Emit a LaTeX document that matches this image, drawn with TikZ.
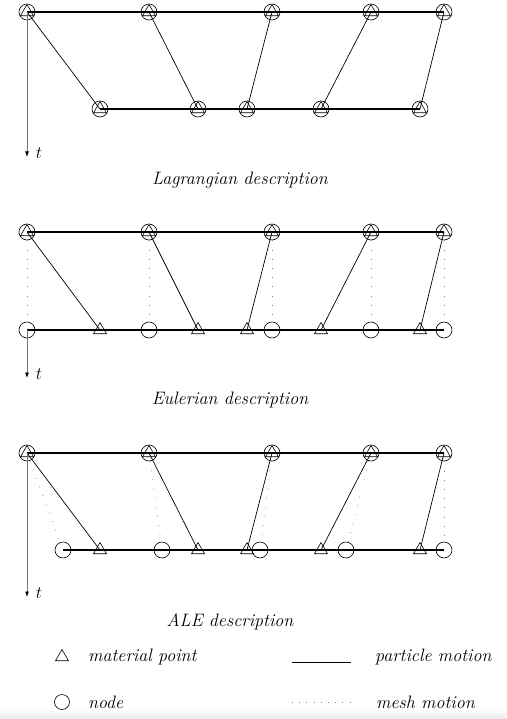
\documentclass[tikz,border=0pt]{standalone}
\usetikzlibrary{shapes.geometric,arrows.meta}
\begin{document}
\begin{tikzpicture}[x=1pt,y=-1pt,
  nd/.style={circle,draw,line width=0.6pt,minimum size=16pt,inner sep=0pt},
  mp/.style={regular polygon,regular polygon sides=3,draw,line width=0.6pt,minimum size=15pt,inner sep=0pt},
  pm/.style={line width=0.7pt},
  rowline/.style={line width=1.1pt},
  mm/.style={draw=black!50,line width=0.7pt,dash pattern=on 0.7pt off 8.5pt},
  ax/.style={draw=black!55,line width=0.8pt,-{Latex[length=5.5pt,width=4pt,color=black]}},
  lab/.style={font=\fontsize{18}{22}\selectfont\itshape,inner sep=0pt}]
\useasboundingbox (0,0) rectangle (506,719);
\fill[top color=white,bottom color=black!9,draw=none] (0,709) rectangle (506,719);

% ---------- Lagrangian ----------
\foreach \i/\x in {1/27,2/149,3/272,4/371,5/444}{
  \node[nd] (Ltc\i) at (\x,12) {};
  \node[mp] (Lt\i) at (\x,12) {};
}
\foreach \i/\x in {1/100,2/198,3/247,4/321,5/420}{
  \node[nd] (Lbc\i) at (\x,109) {};
  \node[mp] (Lb\i) at (\x,109) {};
}
\draw[rowline] (Lt1.center) -- (Lt5.center);
\draw[rowline] (Lb1.center) -- (Lb5.center);
\foreach \i in {1,...,5}{\draw[pm] (Lt\i.center) -- (Lb\i.center);}
\coordinate (Lend) at (27,157);
\draw[ax] (Lt1.center) -- (Lend);
\node[lab] (Ltl) at (39,153) {$t$};
\node[lab] (Lcap) at (240,180) {Lagrangian description};

% ---------- Eulerian ----------
\foreach \i/\x in {1/27,2/149,3/272,4/371,5/444}{
  \node[nd] (Etc\i) at (\x,232) {};
  \node[mp] (Et\i) at (\x,232) {};
  \node[nd] (Ebc\i) at (\x,330) {};
}
\foreach \i/\x in {1/100,2/198,3/247,4/321,5/420}{
  \node[mp] (Eb\i) at (\x,330) {};
}
\draw[rowline] (Et1.center) -- (Et5.center);
\draw[rowline] (Ebc1.center) -- (Ebc5.center);
\foreach \i in {1,...,5}{
  \draw[pm] (Et\i.center) -- (Eb\i.center);
  \draw[mm] (Etc\i) -- (Ebc\i);
}
\coordinate (Eend) at (27,378);
\draw[ax] (Ebc1.center) -- (Eend);
\node[lab] (Etl) at (39,374) {$t$};
\node[lab] (Ecap) at (230,400) {Eulerian description};

% ---------- ALE ----------
\foreach \i/\x in {1/27,2/149,3/272,4/371,5/444}{
  \node[nd] (Atc\i) at (\x,453) {};
  \node[mp] (At\i) at (\x,453) {};
}
\foreach \i/\x in {1/63,2/162,3/260,4/346,5/444}{
  \node[nd] (Abc\i) at (\x,550) {};
}
\foreach \i/\x in {1/100,2/198,3/247,4/321,5/420}{
  \node[mp] (Ab\i) at (\x,550) {};
}
\draw[rowline] (At1.center) -- (At5.center);
\draw[rowline] (Abc1.center) -- (Abc5.center);
\foreach \i in {1,...,5}{
  \draw[pm] (At\i.center) -- (Ab\i.center);
  \draw[mm] (Atc\i) -- (Abc\i);
}
\coordinate (Aend) at (27,597);
\draw[ax] (At1.center) -- (Aend);
\node[lab] (Atl) at (39,593) {$t$};
\node[lab] (Acap) at (230,622) {ALE description};

% ---------- Legend ----------
\node[mp] (legmp) at (62,657) {};
\node[lab,anchor=west] (legmpt) at (88,657) {material point};
\node[nd,minimum size=15pt] (legnd) at (62,702) {};
\node[lab,anchor=west] (legndt) at (88,702) {node};
\coordinate (pa) at (292,662);
\coordinate (pb) at (351,662);
\draw[pm] (pa) -- (pb);
\node[lab,anchor=west] (legpm) at (375,657) {particle motion};
\coordinate (ma) at (292,702);
\coordinate (mb) at (351,702);
\draw[mm,dash pattern=on 0.7pt off 6.5pt] (ma) -- (mb);
\node[lab,anchor=west] (legmm) at (376,702) {mesh motion};
\end{tikzpicture}
\end{document}
